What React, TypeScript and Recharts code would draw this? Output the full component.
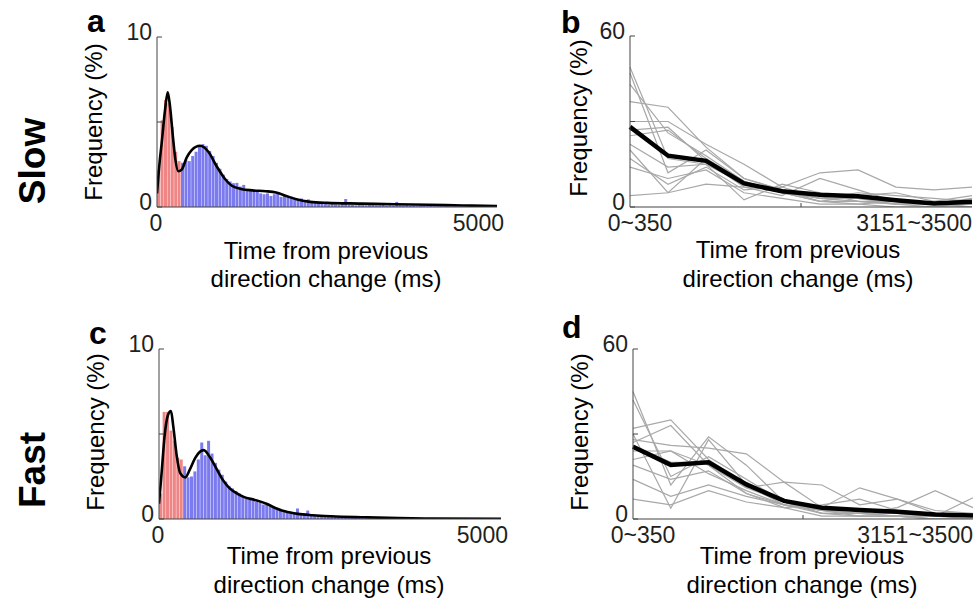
import React from 'react';
import { ComposedChart, LineChart, Bar, Line, XAxis, YAxis, Cell } from 'recharts';

const FONT = '"Liberation Sans", Arial, Helvetica, sans-serif';
const AX = '#444';
const TXT = '#231f20';
const RED = '#f08585';
const BLUE = '#7b7bef';
const GRAY = '#a8a8a8';

// ---------- histogram data (50 ms bins, 0..5000 ms) ----------
const BIN_MS = 50;
const RED_LIMIT_MS = 350;

const slowHist = [
  2.2, 5.1, 6.3, 6.1, 4.7, 3.25, 2.7,
  2.6, 2.75, 2.7, 3.0, 3.25, 3.55, 3.7, 3.6, 3.3, 3.0, 2.6, 2.25, 1.9,
  1.65, 1.5, 1.4, 1.42, 1.2, 1.3, 1.0, 0.95, 0.9, 1.0,
  0.8, 0.75, 0.8, 0.65, 0.75, 0.8, 0.6, 0.7, 0.55, 0.6,
  0.5, 0.45, 0.5, 0.4, 0.45, 0.3, 0.35, 0.25, 0.3, 0.2,
  0.15, 0.2, 0.15, 0.12, 0.18, 0.47, 0.15, 0.12, 0.1, 0.15,
  0.12, 0.1, 0.14, 0.12, 0.1, 0.1, 0.12, 0.08, 0.1, 0.08,
  0.3, 0.1, 0.08, 0.1, 0.06, 0.08, 0.05, 0.07, 0.06, 0.05,
  0.06, 0.05, 0.04, 0.05, 0.04, 0.05, 0.03, 0.04, 0.03, 0.04,
  0.03, 0.02, 0.03, 0.02, 0.03, 0.02, 0.01, 0.02, 0.01, 0.01,
];

const fastHist = [
  1.5, 6.3, 6.3, 5.2, 4.6, 3.6, 3.5,
  3.1, 2.45, 2.5, 2.8, 3.5, 4.5, 3.75, 4.6, 3.85, 3.3, 2.9, 2.6, 2.2,
  1.95, 1.8, 1.65, 1.5, 1.35, 1.25, 1.15, 1.1, 1.0, 0.95,
  0.85, 0.85, 0.75, 0.75, 0.6, 0.5, 0.45, 0.4, 0.38, 0.35,
  0.62, 0.3, 0.28, 0.5, 0.22, 0.2, 0.18, 0.16, 0.15, 0.14,
  0.12, 0.12, 0.1, 0.1, 0.08, 0.08, 0.07, 0.07, 0.06, 0.05,
  0.05, 0.04, 0.04, 0.04, 0.03, 0.03, 0.03, 0.03, 0.02, 0.02,
  0.02, 0.02, 0.02, 0.02, 0.01, 0.01, 0.01, 0.01, 0.01, 0.01,
  0.01, 0.01, 0.01, 0.01, 0.01, 0, 0.01, 0, 0, 0.01,
  0, 0, 0.01, 0, 0, 0, 0, 0, 0, 0,
];

// smoothed density curves
const slowCurveT = [0, 40, 70, 118, 157, 186, 235, 270, 314, 363, 436, 510, 632, 755, 877, 1000, 1100, 1250, 1400, 1600, 1750, 1900, 2050, 2250, 2500, 3000, 3500, 4000, 4500, 5000];
const slowCurveV = [0.8, 2.7, 3.8, 5.7, 6.75, 6.1, 4.1, 2.8, 2.1, 2.2, 2.9, 3.35, 3.6, 3.25, 2.4, 1.65, 1.25, 1.05, 0.98, 0.93, 0.85, 0.65, 0.45, 0.3, 0.24, 0.2, 0.16, 0.13, 0.09, 0.06];

const fastCurveT = [0, 40, 80, 130, 175, 210, 260, 310, 385, 450, 530, 653, 750, 848, 950, 1019, 1120, 1238, 1400, 1580, 1700, 1840, 2030, 2250, 2520, 3000, 3500, 4000, 5000];
const fastCurveV = [0.9, 2.8, 4.8, 6.1, 6.35, 5.4, 3.7, 2.7, 2.45, 2.9, 3.6, 4.05, 3.6, 2.9, 2.2, 1.86, 1.55, 1.3, 1.12, 0.88, 0.65, 0.45, 0.3, 0.22, 0.16, 0.1, 0.05, 0.03, 0.01];

const histXTicks = [0, 5000];
const histYTicks = [0, 5, 10];
const histYLabels = [0, 10];

// ---------- per-subject data (350 ms bins) ----------
const binLabels = ['0~350', '351~700', '701~1050', '1051~1400', '1401~1750', '1751~2100', '2101~2450', '2451~2800', '2801~3150', '3151~3500'];

const slowSubjects = [
  [49, 17, 15, 8, 5, 2, 2, 1, 0, 1],
  [47, 12, 20, 10, 6, 3, 2, 2, 1, 0],
  [43, 26, 18, 9, 5, 3, 3, 1, 1, 1],
  [37, 35, 21, 10, 6, 4, 3, 2, 1, 1],
  [30, 30, 22, 15, 7, 12, 13, 7, 6, 7],
  [27, 28, 16, 7, 4, 10, 6, 2, 1, 3],
  [25, 27, 17, 8, 6, 2, 4, 5, 2, 4],
  [22, 14, 15, 2.5, 8, 5, 2, 1, 2, 1],
  [20, 5, 17, 9, 5, 2, 1, 2, 1, 0],
  [17, 8, 14, 6, 7, 3, 3, 2, 1, 1],
  [14, 10, 13, 5, 3, 1, 1, 0, 0, 0],
  [4, 5, 8, 7, 6, 3, 5, 4, 3, 2],
];
const slowMean = [28.1, 18.0, 16.2, 8.3, 5.5, 4.3, 3.8, 2.4, 1.2, 1.8];

const fastSubjects = [
  [45, 12, 29, 19, 6, 3, 1, 1, 0, 0],
  [42, 15, 22, 14, 6, 2, 1, 1, 1, 0],
  [32, 35, 21, 12, 5, 3, 2, 1, 0, 0],
  [30, 3.8, 28, 12, 6, 2, 2, 1, 1, 1],
  [28, 26, 25, 23, 13, 12, 5, 7, 3, 2],
  [27, 33, 19, 11, 13, 4, 11, 7, 2, 1],
  [24, 24, 19, 9, 5, 3, 2, 4, 10, 4],
  [21, 24, 16, 10, 5, 2, 2, 2, 1, 7.5],
  [19, 14, 17, 9, 4, 5, 7, 3, 2, 1],
  [14, 8, 12, 8, 5, 4, 3, 2, 1, 1],
  [7, 5, 10, 6, 4, 1, 1, 1, 0, 0],
  [26, 20, 20, 11, 6, 3, 3, 2, 1, 1],
];
const fastMean = [25.5, 19.1, 20.0, 12.2, 6.4, 4.0, 3.2, 2.6, 1.6, 1.2];

const subjYTicks = [0, 30, 60];
const subjYLabels = [0, 60];

// ---------- helpers ----------
const makeHist = (vals: number[]) => vals.map((v, i) => ({ bin: i, t: i * BIN_MS + BIN_MS / 2, v }));
const makeCurve = (ts: number[], vs: number[]) => ts.map((t, i) => ({ t, c: vs[i] }));
const makeSubj = (subs: number[][], mean: number[]) =>
  binLabels.map((_, i) => {
    const row: any = { idx: i, mean: mean[i] };
    subs.forEach((s, k) => { row['s' + k] = s[i]; });
    return row;
  });

const YTick = (props: any) => {
  const { x, y, payload, labels } = props;
  const show = labels.includes(payload.value);
  return (
    <g>
      <line x1={x} y1={y} x2={x + 5} y2={y} stroke={AX} strokeWidth={1} />
      {show && (
        <text x={x - 5} y={y + 3} textAnchor="end" fontSize={23} fontFamily={FONT} fill={TXT}>
          {payload.value}
        </text>
      )}
    </g>
  );
};

const HistXTick = (props: any) => {
  const { x, y, payload } = props;
  const isEnd = payload.value === 5000;
  return (
    <text x={isEnd ? x + 7 : x - 1} y={y + 24} textAnchor={isEnd ? 'end' : 'middle'} fontSize={23} fontFamily={FONT} fill={TXT}>
      {payload.value}
    </text>
  );
};

const SubjXTick = (props: any) => {
  const { x, y, payload } = props;
  const v = payload.value;
  if (v === 0 || v === binLabels.length - 1) {
    const first = v === 0;
    return (
      <g>
        <text x={first ? x + 10 : x} y={y + 24} textAnchor={first ? 'middle' : 'end'} fontSize={23} fontFamily={FONT} fill={TXT}>
          {binLabels[v]}
        </text>
      </g>
    );
  }
  return <line x1={x} y1={y} x2={x} y2={y - 4} stroke={AX} strokeWidth={1} />;
};

type HistProps = { left: number; top: number; plotW: number; plotH: number; hist: number[]; ct: number[]; cv: number[] };

const HistPanel = ({ left, top, plotW, plotH, hist, ct, cv }: HistProps) => {
  const yw = 60, xh = 30, mt = 30, mr = 12;
  const data = makeHist(hist);
  const curve = makeCurve(ct, cv);
  return (
    <div style={{ position: 'absolute', left: left - yw, top: top - mt }}>
      <ComposedChart width={yw + plotW + mr} height={mt + plotH + xh} data={data} margin={{ top: mt, right: mr, bottom: 0, left: 0 }} barCategoryGap="6%">
        <XAxis xAxisId="num" dataKey="t" type="number" domain={[0, 5000]} ticks={histXTicks} allowDataOverflow interval={0}
          height={xh} tickSize={0} tickMargin={0} tickLine={false} axisLine={{ stroke: AX, strokeWidth: 1 }} tick={<HistXTick />} />
        <XAxis xAxisId="cat" dataKey="bin" type="category" hide height={0} />
        <YAxis yAxisId="y" type="number" domain={[0, 10]} ticks={histYTicks} allowDataOverflow interval={0}
          width={yw} tickSize={0} tickMargin={0} tickLine={false} axisLine={{ stroke: AX, strokeWidth: 1 }}
          tick={(p: any) => <YTick {...p} labels={histYLabels} />} />
        <Bar xAxisId="cat" yAxisId="y" dataKey="v" isAnimationActive={false}>
          {data.map((d, i) => (
            <Cell key={i} fill={d.t < RED_LIMIT_MS ? RED : BLUE} />
          ))}
        </Bar>
        <Line xAxisId="num" yAxisId="y" data={curve} dataKey="c" type="monotone" stroke="#000" strokeWidth={2.6} dot={false} isAnimationActive={false} />
      </ComposedChart>
    </div>
  );
};

type SubjProps = { left: number; top: number; plotW: number; plotH: number; subs: number[][]; mean: number[] };

const SubjPanel = ({ left, top, plotW, plotH, subs, mean }: SubjProps) => {
  const yw = 60, xh = 30, mt = 30, mr = 4;
  const data = makeSubj(subs, mean);
  const last = binLabels.length - 1;
  return (
    <div style={{ position: 'absolute', left: left - yw, top: top - mt }}>
      <LineChart width={yw + plotW + mr} height={mt + plotH + xh} data={data} margin={{ top: mt, right: mr, bottom: 0, left: 0 }}>
        <XAxis dataKey="idx" type="number" domain={[0, last]} ticks={[0, last / 2, last]} interval={0}
          height={xh} tickSize={0} tickMargin={0} tickLine={false} axisLine={{ stroke: AX, strokeWidth: 1 }} tick={<SubjXTick />} />
        <YAxis type="number" domain={[0, 60]} ticks={subjYTicks} allowDataOverflow interval={0}
          width={yw} tickSize={0} tickMargin={0} tickLine={false} axisLine={{ stroke: AX, strokeWidth: 1 }}
          tick={(p: any) => <YTick {...p} labels={subjYLabels} />} />
        {subs.map((_, k) => (
          <Line key={k} dataKey={'s' + k} type="linear" stroke={GRAY} strokeWidth={1.2} dot={false} isAnimationActive={false} />
        ))}
        <Line dataKey="mean" type="linear" stroke="#000" strokeWidth={4.5} dot={false} isAnimationActive={false} />
      </LineChart>
    </div>
  );
};

const XTitle = ({ cx, y1, y2 }: { cx: number; y1: number; y2: number }) => (
  <g fontFamily={FONT} fontSize={24} fill="#000" textAnchor="middle">
    <text x={cx} y={y1}>Time from previous</text>
    <text x={cx} y={y2}>direction change (ms)</text>
  </g>
);

const YTitle = ({ x, cy }: { x: number; cy: number }) => (
  <text x={x} y={cy} transform={`rotate(-90 ${x} ${cy})`} textAnchor="middle" fontFamily={FONT} fontSize={24} fill="#000">
    Frequency (%)
  </text>
);

export default function App() {
  return (
    <div style={{ position: 'absolute', left: 0, top: 0, width: 978, height: 610, background: '#fff', overflow: 'hidden' }}>
      <HistPanel left={157} top={37} plotW={340} plotH={170} hist={slowHist} ct={slowCurveT} cv={slowCurveV} />
      <SubjPanel left={630} top={36} plotW={342} plotH={171} subs={slowSubjects} mean={slowMean} />
      <HistPanel left={159} top={349} plotW={342} plotH={170} hist={fastHist} ct={fastCurveT} cv={fastCurveV} />
      <SubjPanel left={633} top={349} plotW={340} plotH={170} subs={fastSubjects} mean={fastMean} />
      <svg width={978} height={610} style={{ position: 'absolute', left: 0, top: 0, pointerEvents: 'none' }}>
        <g fontFamily={FONT} fontWeight="bold" fontSize={32} fill="#000">
          <text x={87} y={32}>a</text>
          <text x={561} y={33}>b</text>
          <text x={89} y={344}>c</text>
          <text x={562} y={338}>d</text>
        </g>
        <g fontFamily={FONT} fontWeight="bold" fontSize={37} fill="#000" textAnchor="middle">
          <text x={45} y={161} transform="rotate(-90 45 161)">Slow</text>
          <text x={45} y={470} transform="rotate(-90 45 470)">Fast</text>
        </g>
        <YTitle x={102} cy={122} />
        <YTitle x={587} cy={118} />
        <YTitle x={104} cy={432} />
        <YTitle x={588} cy={432} />
        <XTitle cx={326} y1={259} y2={287} />
        <XTitle cx={798} y1={258} y2={287} />
        <XTitle cx={329} y1={564} y2={593} />
        <XTitle cx={802} y1={564} y2={593} />
      </svg>
    </div>
  );
}
